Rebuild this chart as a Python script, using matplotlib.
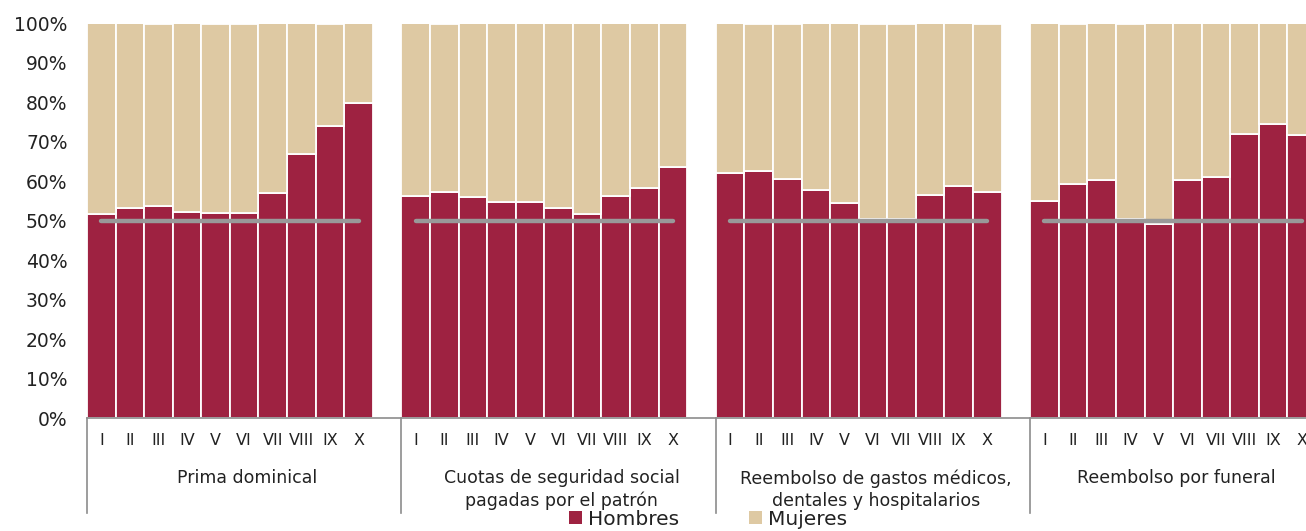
import matplotlib
matplotlib.use("Agg")
import matplotlib.pyplot as plt
import matplotlib.transforms as mtransforms
from matplotlib.patches import Patch
import numpy as np

plt.rcParams['font.family'] = ['DejaVu Sans']

# ---------------- data ----------------
grupos = ["Prima dominical",
          "Cuotas de seguridad social\npagadas por el patrón",
          "Reembolso de gastos médicos,\ndentales y hospitalarios",
          "Reembolso por funeral"]
deciles = ["I", "II", "III", "IV", "V", "VI", "VII", "VIII", "IX", "X"]

hombres_prima   = [51.8, 53.2, 53.7, 52.2, 51.9, 52.0, 57.0, 66.9, 74.1, 79.8]
hombres_cuotas  = [56.4, 57.2, 56.1, 54.8, 54.8, 53.2, 51.6, 56.4, 58.2, 63.5]
hombres_gastos  = [62.2, 62.6, 60.6, 57.7, 54.4, 50.4, 50.4, 56.5, 58.7, 57.2]
hombres_funeral = [55.1, 59.4, 60.4, 50.4, 49.1, 60.4, 61.1, 71.9, 74.5, 71.8]

mujeres_prima   = [48.2, 46.8, 46.3, 47.8, 48.1, 48.0, 43.0, 33.1, 25.9, 20.2]
mujeres_cuotas  = [43.6, 42.8, 43.9, 45.2, 45.2, 46.8, 48.4, 43.6, 41.8, 36.5]
mujeres_gastos  = [37.8, 37.4, 39.4, 42.3, 45.6, 49.6, 49.6, 43.5, 41.3, 42.8]
mujeres_funeral = [44.9, 40.6, 39.6, 49.6, 50.9, 39.6, 38.9, 28.1, 25.5, 28.2]

referencia = 50.0
yticks = [0, 10, 20, 30, 40, 50, 60, 70, 80, 90, 100]

hombres = [hombres_prima, hombres_cuotas, hombres_gastos, hombres_funeral]
mujeres = [mujeres_prima, mujeres_cuotas, mujeres_gastos, mujeres_funeral]

# ---------------- style ----------------
C_H = "#9E2241"
C_M = "#DEC9A3"
C_REF = "#999999"
C_AX = "#8C8C8C"
C_TXT = "#222222"

W, H = 1306, 531
fig = plt.figure(figsize=(W / 100, H / 100), dpi=100)
ax = fig.add_axes([87 / W, (H - 418) / H, (W - 87) / W, (418 - 23.5) / H])

xs_all, labels_all = [], []
for g in range(4):
    x = g * 11 + np.arange(len(deciles))
    ax.bar(x, hombres[g], width=1.0, color=C_H, edgecolor="white", linewidth=1.3, zorder=2)
    ax.bar(x, mujeres[g], bottom=hombres[g], width=1.0, color=C_M, edgecolor="white",
           linewidth=1.3, zorder=2)
    ax.plot([x[0], x[-1]], [referencia, referencia], color=C_REF, lw=3.2,
            solid_capstyle="round", zorder=3)
    xs_all.extend(x)
    labels_all.extend(deciles)

ax.set_xlim(-0.5, 42.15)
ax.set_ylim(0, 100)
ax.set_yticks(yticks)
ax.set_yticklabels([f"{v}%" for v in yticks], fontsize=13.5, color=C_TXT)
ax.set_xticks(xs_all)
ax.set_xticklabels(labels_all, fontsize=11.5, color=C_TXT)
ax.tick_params(axis="both", length=0)
ax.tick_params(axis="x", pad=11)
ax.tick_params(axis="y", pad=14)

for s in ["top", "right", "left"]:
    ax.spines[s].set_visible(False)
ax.spines["bottom"].set_color(C_AX)
ax.spines["bottom"].set_linewidth(1.2)

trans = mtransforms.blended_transform_factory(ax.transData, ax.transAxes)
for g in range(4):
    xs = g * 11 - 0.5
    ax.plot([xs, xs], [0, -95 / 394.5], color=C_AX, lw=1.2, transform=trans, clip_on=False)
    cx = g * 11 + 5.1 if g < 3 else g * 11 + 4.6
    ax.text(cx, -51 / 394.5, grupos[g], transform=trans, ha="center", va="top",
            fontsize=12.5, color=C_TXT, linespacing=1.3, multialignment="center")

handles = [Patch(facecolor=C_H, edgecolor="none"), Patch(facecolor=C_M, edgecolor="none")]
fig.legend(handles, ["Hombres", "Mujeres"], ncol=2, loc="center",
           bbox_to_anchor=(708 / W, 0.022), frameon=False, fontsize=14.5,
           handlelength=0.65, handleheight=0.65, handletextpad=0.3,
           columnspacing=3.5, labelcolor=C_TXT, borderpad=0.0)

fig.savefig("out.png", dpi=100)
